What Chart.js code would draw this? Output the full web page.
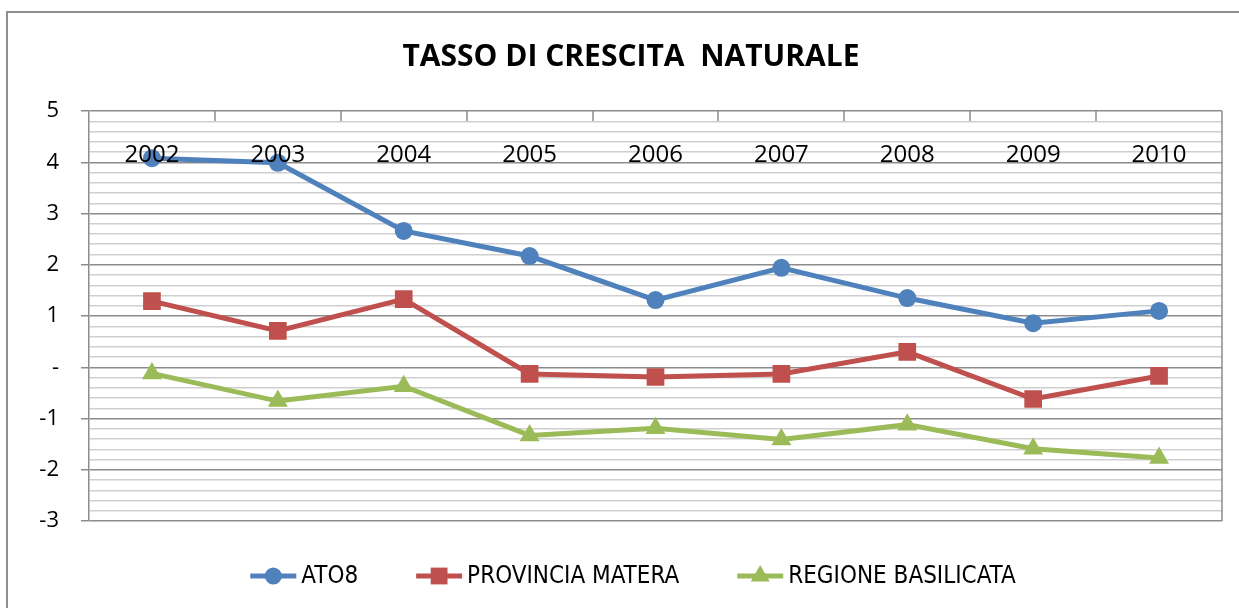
<!DOCTYPE html>
<html>
<head>
<meta charset="utf-8">
<script src="https://cdn.jsdelivr.net/npm/chart.js@4.4.1/dist/chart.umd.min.js"></script>
<style>
  html, body { margin: 0; padding: 0; background: #fff; }
  #wrap { position: relative; width: 1239px; height: 608px; overflow: hidden; }
  #frame { position: absolute; left: 6px; top: 11px; width: 1300px; height: 700px;
           border-left: 2px solid #8e8e8e; border-top: 2px solid #8e8e8e; }
  canvas { position: absolute; left: 0; top: 0; }
</style>
</head>
<body>
<div id="wrap">
  <div id="frame"></div>
  <canvas id="chart" width="1239" height="608"></canvas>
</div>
<script>
const years = ['2002', '2003', '2004', '2005', '2006', '2007', '2008', '2009', '2010'];
const ato8 = [4.08, 3.99, 2.66, 2.17, 1.31, 1.94, 1.35, 0.86, 1.10];
const provinciaMatera = [1.29, 0.71, 1.33, -0.13, -0.19, -0.13, 0.30, -0.62, -0.17];
const regioneBasilicata = [-0.12, -0.66, -0.37, -1.33, -1.19, -1.41, -1.12, -1.59, -1.77];
const seriesNames = ['ATO8', 'PROVINCIA MATERA', 'REGIONE BASILICATA'];
const seriesColors = ['#4F81BD', '#C0504D', '#9BBB59'];
const seriesMarkers = ['circle', 'rect', 'triangle'];
const markerRadius = [9, 12.5, 11.5];

const isMajor = v => Math.abs(v - Math.round(v)) < 1e-6;

// title, category labels, inner tick marks and legend (Excel look)
const excelDecor = {
  id: 'excelDecor',
  beforeDatasetsDraw(chart) {
    const ctx = chart.ctx;
    const area = chart.chartArea;
    ctx.save();
    // right edge of the plot area
    ctx.strokeStyle = '#8c8c8c';
    ctx.lineWidth = 1.5;
    ctx.beginPath();
    ctx.moveTo(area.right, area.top);
    ctx.lineTo(area.right, area.bottom);
    ctx.stroke();
    ctx.restore();
  },
  afterDatasetsDraw(chart) {
    const ctx = chart.ctx;
    const x = chart.scales.x;
    const area = chart.chartArea;
    ctx.save();

    // short ticks between categories, hanging from the top edge
    ctx.strokeStyle = '#8c8c8c';
    ctx.lineWidth = 1.5;
    for (let i = 1; i < years.length; i++) {
      const px = Math.round((x.getPixelForValue(i - 1) + x.getPixelForValue(i)) / 2);
      ctx.beginPath();
      ctx.moveTo(px, area.top);
      ctx.lineTo(px, area.top + 10);
      ctx.stroke();
    }

    // category labels
    ctx.fillStyle = '#000';
    ctx.font = '24px "Open Sans", sans-serif';
    ctx.textAlign = 'center';
    ctx.textBaseline = 'middle';
    years.forEach((y, i) => ctx.fillText(y, x.getPixelForValue(i), area.top + 44));

    // title
    ctx.font = 'bold 30px "Open Sans", sans-serif';
    ctx.fillText('TASSO DI CRESCITA  NATURALE', 631, 57);

    // legend
    ctx.font = '24px "Liberation Sans Narrow", "DejaVu Sans Condensed", sans-serif';
    ctx.textAlign = 'left';
    const lineLen = 46, gapText = 5, gapItem = 58;
    const widths = seriesNames.map(n => lineLen + gapText + ctx.measureText(n).width);
    const total = widths.reduce((a, b) => a + b, 0) + gapItem * (seriesNames.length - 1);
    let lx = 633 - total / 2;
    const ly = 576;
    seriesNames.forEach((name, i) => {
      ctx.strokeStyle = seriesColors[i];
      ctx.lineWidth = 5;
      ctx.beginPath();
      ctx.moveTo(lx, ly);
      ctx.lineTo(lx + lineLen, ly);
      ctx.stroke();
      ctx.fillStyle = seriesColors[i];
      Chart.helpers.drawPoint(ctx, { pointStyle: seriesMarkers[i], radius: markerRadius[i] * 0.95, borderWidth: 0 },
        lx + lineLen / 2, ly);
      ctx.fillStyle = '#000';
      ctx.fillText(name, lx + lineLen + gapText, ly + 1);
      lx += widths[i] + gapItem;
    });
    ctx.restore();
  }
};

const datasets = [ato8, provinciaMatera, regioneBasilicata].map((vals, i) => ({
  label: seriesNames[i],
  data: vals,
  borderColor: seriesColors[i],
  backgroundColor: seriesColors[i],
  borderWidth: 5,
  pointStyle: seriesMarkers[i],
  pointRadius: markerRadius[i],
  pointBorderWidth: 0,
  pointHoverRadius: markerRadius[i],
  tension: 0
}));

new Chart(document.getElementById('chart'), {
  type: 'line',
  data: { labels: years, datasets: datasets },
  plugins: [excelDecor],
  options: {
    responsive: false,
    animation: false,
    events: [],
    layout: { padding: { left: 0, right: 17, top: 111, bottom: 87 } },
    plugins: {
      legend: { display: false },
      title: { display: false },
      tooltip: { enabled: false }
    },
    scales: {
      x: {
        position: 'top',
        offset: true,
        afterFit: s => { s.height = 0; },
        ticks: { display: false },
        grid: { display: false },
        border: { display: false }
      },
      y: {
        min: -3,
        max: 5,
        afterFit: s => { s.width = 89; },
        ticks: {
          stepSize: 0.2,
          autoSkip: false,
          padding: 22,
          color: '#000',
          font: { family: '"Open Sans", sans-serif', size: 22 },
          callback: v => isMajor(v) ? (Math.round(v) === 0 ? '-' : String(Math.round(v))) : ''
        },
        grid: {
          color: c => isMajor(c.tick.value) ? '#8c8c8c' : '#cfcfcf',
          lineWidth: 1.5,
          tickLength: 8,
          tickColor: c => isMajor(c.tick.value) ? '#8c8c8c' : 'rgba(0,0,0,0)'
        },
        border: { display: true, color: '#8c8c8c', width: 1.5 }
      }
    }
  }
});
</script>
</body>
</html>
